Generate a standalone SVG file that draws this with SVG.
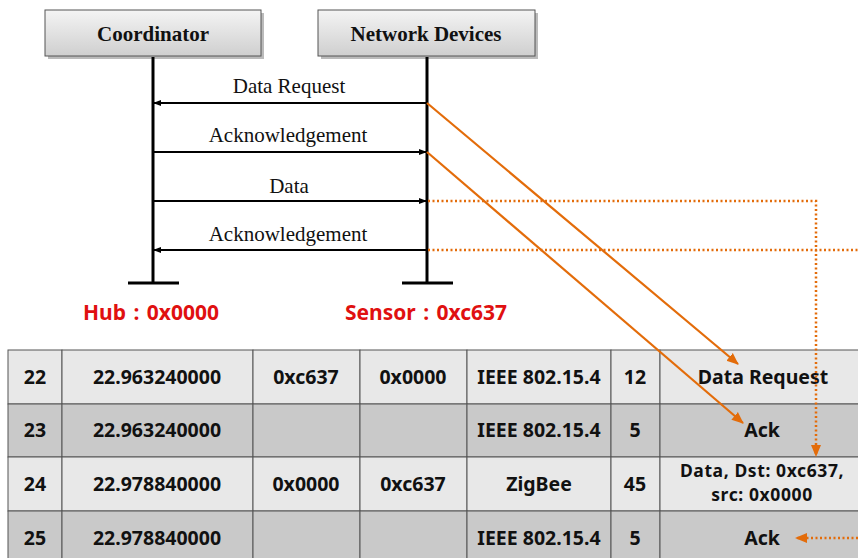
<svg xmlns="http://www.w3.org/2000/svg" width="858" height="558" viewBox="0 0 858 558">
<style>
.box{fill:url(#g);stroke:#555;stroke-width:1}
.bt{font-family:"Liberation Serif",serif;font-weight:bold;font-size:21px;fill:#111;text-anchor:middle}
.life{stroke:#000;stroke-width:3;fill:none}
.msg{stroke:#000;stroke-width:2;fill:none}
.ml{font-family:"Liberation Serif",serif;font-size:21px;fill:#111;text-anchor:middle}
.red{font-family:"Noto Sans",sans-serif;font-weight:bold;font-size:21px;fill:#e01010;text-anchor:middle;word-spacing:2px}
.or{stroke:#e36c0a;stroke-width:2.2;fill:none}
.dot{stroke:#e36c0a;stroke-width:2.5;fill:none;stroke-dasharray:2 2.5}
.c1{fill:#e8e8e8;stroke:#555;stroke-width:1}
.c2{fill:#c9c9c9;stroke:#555;stroke-width:1}
.t{font-family:"Noto Sans",sans-serif;font-weight:bold;font-size:19.5px;fill:#111;text-anchor:middle}
.t2{font-family:"Noto Sans",sans-serif;font-weight:bold;font-size:17.5px;fill:#111;text-anchor:middle;letter-spacing:0.6px}
</style>
<defs>
<linearGradient id="g" x1="0" y1="0" x2="0" y2="1">
<stop offset="0" stop-color="#f4f4f4"/>
<stop offset="1" stop-color="#cfcfcf"/>
</linearGradient>
<marker id="ab" markerWidth="8" markerHeight="8" refX="7" refY="4" orient="auto" markerUnits="userSpaceOnUse">
<path d="M0,1 L8,4 L0,7 Z" fill="#000"/>
</marker>
<marker id="ao" markerWidth="12" markerHeight="12" refX="11" refY="6" orient="auto" markerUnits="userSpaceOnUse">
<path d="M0,1 L12,6 L0,11 Z" fill="#e36c0a"/>
</marker>
</defs>
<rect width="858" height="558" fill="#fff"/>

<g id="coordinator">
<rect x="48" y="13" width="216" height="46" fill="#bbb"/>
<rect class="box" x="45" y="10" width="216" height="46"/>
<text class="bt" x="153" y="41">Coordinator</text>
</g>
<g id="network-devices">
<rect x="321" y="13" width="217" height="46" fill="#bbb"/>
<rect class="box" x="318" y="10" width="217" height="46"/>
<text class="bt" x="426" y="41">Network Devices</text>
</g>

<g id="lifelines">
<line class="life" x1="153" y1="57" x2="153" y2="284"/>
<line class="life" x1="128" y1="283" x2="179" y2="283"/>
<line class="life" x1="427" y1="57" x2="427" y2="284"/>
<line class="life" x1="402" y1="283" x2="453" y2="283"/>
</g>

<g id="labels">
<text class="red" x="151" y="320">Hub : 0x0000</text>
<text class="red" x="426" y="320">Sensor : 0xc637</text>
</g>

<g id="table">
<g id="row22">
<rect class="c1" x="8" y="350" width="54" height="54"/>
<rect class="c1" x="62" y="350" width="191" height="54"/>
<rect class="c1" x="253" y="350" width="107" height="54"/>
<rect class="c1" x="360" y="350" width="107" height="54"/>
<rect class="c1" x="467" y="350" width="144" height="54"/>
<rect class="c1" x="611" y="350" width="49" height="54"/>
<rect class="c1" x="660" y="350" width="210" height="54"/>
<text class="t" x="35" y="384">22</text>
<text class="t" x="157" y="384">22.963240000</text>
<text class="t" x="306" y="384">0xc637</text>
<text class="t" x="413" y="384">0x0000</text>
<text class="t" x="539" y="384">IEEE 802.15.4</text>
<text class="t" x="635" y="384">12</text>
<text class="t" x="763" y="384">Data Request</text>
</g>
<g id="row23">
<rect class="c2" x="8" y="404" width="54" height="53"/>
<rect class="c2" x="62" y="404" width="191" height="53"/>
<rect class="c2" x="253" y="404" width="107" height="53"/>
<rect class="c2" x="360" y="404" width="107" height="53"/>
<rect class="c2" x="467" y="404" width="144" height="53"/>
<rect class="c2" x="611" y="404" width="49" height="53"/>
<rect class="c2" x="660" y="404" width="210" height="53"/>
<text class="t" x="35" y="437">23</text>
<text class="t" x="157" y="437">22.963240000</text>
<text class="t" x="539" y="437">IEEE 802.15.4</text>
<text class="t" x="635" y="437">5</text>
<text class="t" x="762" y="437">Ack</text>
</g>
<g id="row24">
<rect class="c1" x="8" y="457" width="54" height="54"/>
<rect class="c1" x="62" y="457" width="191" height="54"/>
<rect class="c1" x="253" y="457" width="107" height="54"/>
<rect class="c1" x="360" y="457" width="107" height="54"/>
<rect class="c1" x="467" y="457" width="144" height="54"/>
<rect class="c1" x="611" y="457" width="49" height="54"/>
<rect class="c1" x="660" y="457" width="210" height="54"/>
<text class="t" x="35" y="491">24</text>
<text class="t" x="157" y="491">22.978840000</text>
<text class="t" x="306" y="491">0x0000</text>
<text class="t" x="413" y="491">0xc637</text>
<text class="t" x="539" y="491">ZigBee</text>
<text class="t" x="635" y="491">45</text>
<text class="t2" x="762" y="477">Data, Dst: 0xc637,</text>
<text class="t2" x="762" y="501">src: 0x0000</text>
</g>
<g id="row25">
<rect class="c2" x="8" y="511" width="54" height="60"/>
<rect class="c2" x="62" y="511" width="191" height="60"/>
<rect class="c2" x="253" y="511" width="107" height="60"/>
<rect class="c2" x="360" y="511" width="107" height="60"/>
<rect class="c2" x="467" y="511" width="144" height="60"/>
<rect class="c2" x="611" y="511" width="49" height="60"/>
<rect class="c2" x="660" y="511" width="210" height="60"/>
<text class="t" x="35" y="545">25</text>
<text class="t" x="157" y="545">22.978840000</text>
<text class="t" x="539" y="545">IEEE 802.15.4</text>
<text class="t" x="635" y="545">5</text>
<text class="t" x="762" y="545">Ack</text>
</g>
</g>

<g id="connectors">
<line class="msg" x1="427" y1="103" x2="154" y2="103" marker-end="url(#ab)"/>
<text class="ml" x="289" y="93">Data Request</text>
<line class="msg" x1="153" y1="152" x2="426" y2="152" marker-end="url(#ab)"/>
<text class="ml" x="288" y="142">Acknowledgement</text>
<line class="msg" x1="153" y1="201" x2="426" y2="201" marker-end="url(#ab)"/>
<text class="ml" x="289" y="193">Data</text>
<line class="msg" x1="427" y1="250" x2="154" y2="250" marker-end="url(#ab)"/>
<text class="ml" x="288" y="241">Acknowledgement</text>

<line class="or" x1="427" y1="103" x2="738" y2="364" marker-end="url(#ao)"/>
<line class="or" x1="427" y1="152" x2="743" y2="423" marker-end="url(#ao)"/>
<polyline class="dot" points="428,201 816,201 816,456" marker-end="url(#ao)"/>
<line class="dot" x1="428" y1="250" x2="858" y2="250"/>
<line class="dot" x1="858" y1="538" x2="796" y2="538" marker-end="url(#ao)"/>
</g>
</svg>
